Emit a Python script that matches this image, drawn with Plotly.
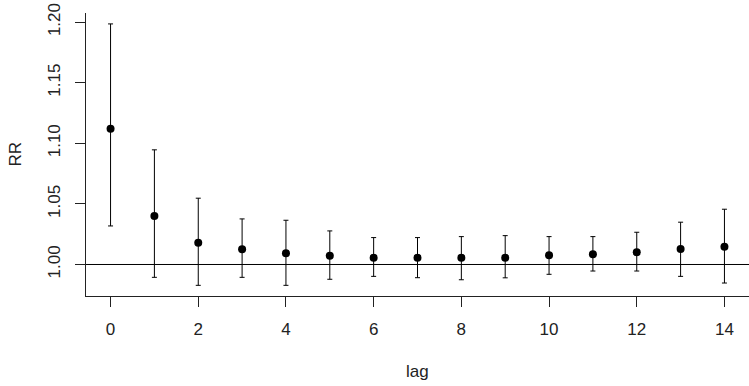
import plotly.graph_objects as go

lags = list(range(15))
rr = [1.112, 1.040, 1.018, 1.0126, 1.0093, 1.0073, 1.0056, 1.0056, 1.0056, 1.0056,
      1.0076, 1.0084, 1.0101, 1.0128, 1.0147]
upper = [1.1985, 1.0946, 1.0547, 1.0376, 1.0365, 1.0277, 1.0222, 1.0222, 1.0230, 1.0238,
         1.0230, 1.0230, 1.0266, 1.0349, 1.0456]
lower = [1.0318, 0.9894, 0.9828, 0.9894, 0.9828, 0.9878, 0.9902, 0.9891, 0.9874, 0.9890,
         0.9919, 0.9946, 0.9946, 0.9902, 0.9847]

x_ticks = [0, 2, 4, 6, 8, 10, 12, 14]
y_ticks = [1.00, 1.05, 1.10, 1.15, 1.20]
y_tick_text = ["1.00", "1.05", "1.10", "1.15", "1.20"]

err_plus = [u - r for u, r in zip(upper, rr)]
err_minus = [r - l for r, l in zip(rr, lower)]

font = "Liberation Sans, Arial, sans-serif"
ink = "#222"

fig = go.Figure()
fig.add_trace(go.Scatter(
    x=lags, y=rr, mode="markers",
    marker=dict(color="black", size=8, symbol="circle"),
    error_y=dict(type="data", symmetric=False, array=err_plus, arrayminus=err_minus,
                 color="black", thickness=1, width=2.5),
    showlegend=False, hoverinfo="skip",
))

fig.add_shape(type="line", xref="paper", x0=0, x1=1, yref="y", y0=1, y1=1,
              line=dict(color="black", width=1))

fig.update_layout(
    width=749, height=386,
    margin=dict(l=86, r=0, t=13, b=90, autoexpand=False),
    paper_bgcolor="white", plot_bgcolor="white",
    font=dict(family=font, size=17, color=ink),
    xaxis=dict(range=[-0.56, 14.56], tickvals=x_ticks, ticks="outside", ticklen=10,
               tickcolor=ink, showline=True, linecolor=ink, linewidth=1,
               showgrid=False, zeroline=False, ticklabelstandoff=8,
               ticklabeloverflow="allow", automargin=False),
    yaxis=dict(range=[0.974, 1.2075], tickvals=y_ticks, ticktext=y_tick_text,
               ticks="outside", ticklen=10, tickcolor=ink, tickangle=-90,
               showline=True, linecolor=ink, linewidth=1, showgrid=False,
               zeroline=False, ticklabelstandoff=8, ticklabeloverflow="allow",
               automargin=False),
    annotations=[
        dict(text="RR", xref="paper", yref="paper", x=(15 - 86) / 663, y=0.5,
             textangle=-90, showarrow=False, font=dict(size=17, family=font, color=ink),
             xanchor="center", yanchor="middle", borderpad=0),
        dict(text="lag", xref="paper", yref="paper", x=0.5, y=(296 - 371) / 283,
             showarrow=False, font=dict(size=17, family=font, color=ink),
             xanchor="center", yanchor="middle"),
    ],
)

fig.write_html("out.html", config={"displayModeBar": False},
               post_script="document.body.style.margin='0';")
